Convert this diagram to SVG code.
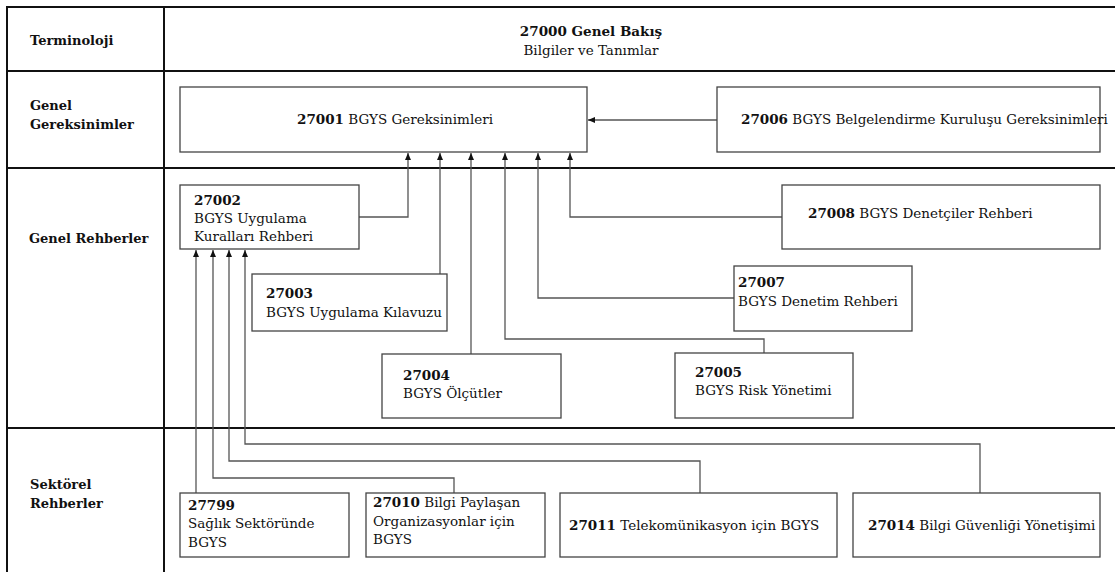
<svg xmlns="http://www.w3.org/2000/svg" width="1115" height="572" viewBox="0 0 1115 572">
<style>
text{font-family:'DejaVu Serif',serif;font-size:13.5px;fill:#111}
.b{font-weight:bold}
.lbl{font-weight:bold;font-size:13px}
.grid{stroke:#111;stroke-width:2;fill:none}
.box{fill:#fff;stroke:#444;stroke-width:1.3}
.c{fill:none;stroke:#555;stroke-width:1.3}
</style>
<defs>
<marker id="ah" markerWidth="8" markerHeight="8" refX="7" refY="4" orient="auto" markerUnits="userSpaceOnUse">
<path d="M0,1 L7,4 L0,7 Z" fill="#111"/>
</marker>
</defs>
<rect width="1115" height="572" fill="#fff"/>
<g id="table">
<line class="grid" x1="7" y1="7" x2="1115" y2="7"/>
<line class="grid" x1="7" y1="71" x2="1115" y2="71"/>
<line class="grid" x1="7" y1="168" x2="1115" y2="168"/>
<line class="grid" x1="7" y1="428" x2="1115" y2="428"/>
<line class="grid" x1="7" y1="6" x2="7" y2="572"/>
<line class="grid" x1="164" y1="6" x2="164" y2="572"/>
<text class="lbl" x="30" y="45">Terminoloji</text>
<text class="lbl" x="30" y="110">Genel</text>
<text class="lbl" x="30" y="129">Gereksinimler</text>
<text class="lbl" x="29" y="243">Genel Rehberler</text>
<text class="lbl" x="30" y="489">Sektörel</text>
<text class="lbl" x="30" y="508">Rehberler</text>
</g>
<g id="n27000">
<text x="591" y="36" text-anchor="middle" class="b">27000 Genel Bakış</text>
<text x="591" y="55" text-anchor="middle">Bilgiler ve Tanımlar</text>
</g>
<g id="connectors">
<line class="c" x1="717" y1="120" x2="588" y2="120" marker-end="url(#ah)"/>
<polyline class="c" points="359,217 408,217 408,153" marker-end="url(#ah)"/>
<polyline class="c" points="440,274 440,153" marker-end="url(#ah)"/>
<polyline class="c" points="471,354 471,153" marker-end="url(#ah)"/>
<polyline class="c" points="764,353 764,339 505,339 505,153" marker-end="url(#ah)"/>
<polyline class="c" points="734,298 538,298 538,153" marker-end="url(#ah)"/>
<polyline class="c" points="782,217 570,217 570,153" marker-end="url(#ah)"/>
<polyline class="c" points="196,493 196,250" marker-end="url(#ah)"/>
<polyline class="c" points="454,493 454,478 213,478 213,250" marker-end="url(#ah)"/>
<polyline class="c" points="700,493 700,461 229,461 229,250" marker-end="url(#ah)"/>
<polyline class="c" points="980,493 980,444 245,444 245,250" marker-end="url(#ah)"/>
</g>
<g id="n27001">
<rect class="box" x="180" y="87" width="407" height="65"/>
<text x="297" y="124"><tspan class="b">27001</tspan> BGYS Gereksinimleri</text>
</g>
<g id="n27006">
<rect class="box" x="717" y="87" width="383" height="65"/>
<text x="741" y="124"><tspan class="b">27006</tspan> BGYS Belgelendirme Kuruluşu Gereksinimleri</text>
</g>
<g id="n27002">
<rect class="box" x="180" y="185" width="179" height="64"/>
<text x="194" y="205" class="b">27002</text>
<text x="194" y="223">BGYS Uygulama</text>
<text x="194" y="241">Kuralları Rehberi</text>
</g>
<g id="n27008">
<rect class="box" x="782" y="185" width="318" height="64"/>
<text x="808" y="218"><tspan class="b">27008</tspan> BGYS Denetçiler Rehberi</text>
</g>
<g id="n27003">
<rect class="box" x="252" y="274" width="195" height="57"/>
<text x="266" y="298" class="b">27003</text>
<text x="266" y="317">BGYS Uygulama Kılavuzu</text>
</g>
<g id="n27007">
<rect class="box" x="734" y="266" width="178" height="65"/>
<text x="738" y="287" class="b">27007</text>
<text x="738" y="306">BGYS Denetim Rehberi</text>
</g>
<g id="n27004">
<rect class="box" x="382" y="354" width="179" height="64"/>
<text x="403" y="380" class="b">27004</text>
<text x="403" y="398">BGYS Ölçütler</text>
</g>
<g id="n27005">
<rect class="box" x="675" y="353" width="178" height="65"/>
<text x="695" y="377" class="b">27005</text>
<text x="695" y="395">BGYS Risk Yönetimi</text>
</g>
<g id="n27799">
<rect class="box" x="180" y="493" width="169" height="64"/>
<text x="188" y="510" class="b">27799</text>
<text x="188" y="528">Sağlık Sektöründe</text>
<text x="188" y="547">BGYS</text>
</g>
<g id="n27010">
<rect class="box" x="366" y="493" width="179" height="64"/>
<text x="373" y="507"><tspan class="b">27010</tspan> Bilgi Paylaşan</text>
<text x="373" y="526">Organizasyonlar için</text>
<text x="373" y="544">BGYS</text>
</g>
<g id="n27011">
<rect class="box" x="560" y="493" width="277" height="64"/>
<text x="569" y="530"><tspan class="b">27011</tspan> Telekomünikasyon için BGYS</text>
</g>
<g id="n27014">
<rect class="box" x="853" y="493" width="247" height="64"/>
<text x="868" y="530"><tspan class="b">27014</tspan> Bilgi Güvenliği Yönetişimi</text>
</g>
</svg>
